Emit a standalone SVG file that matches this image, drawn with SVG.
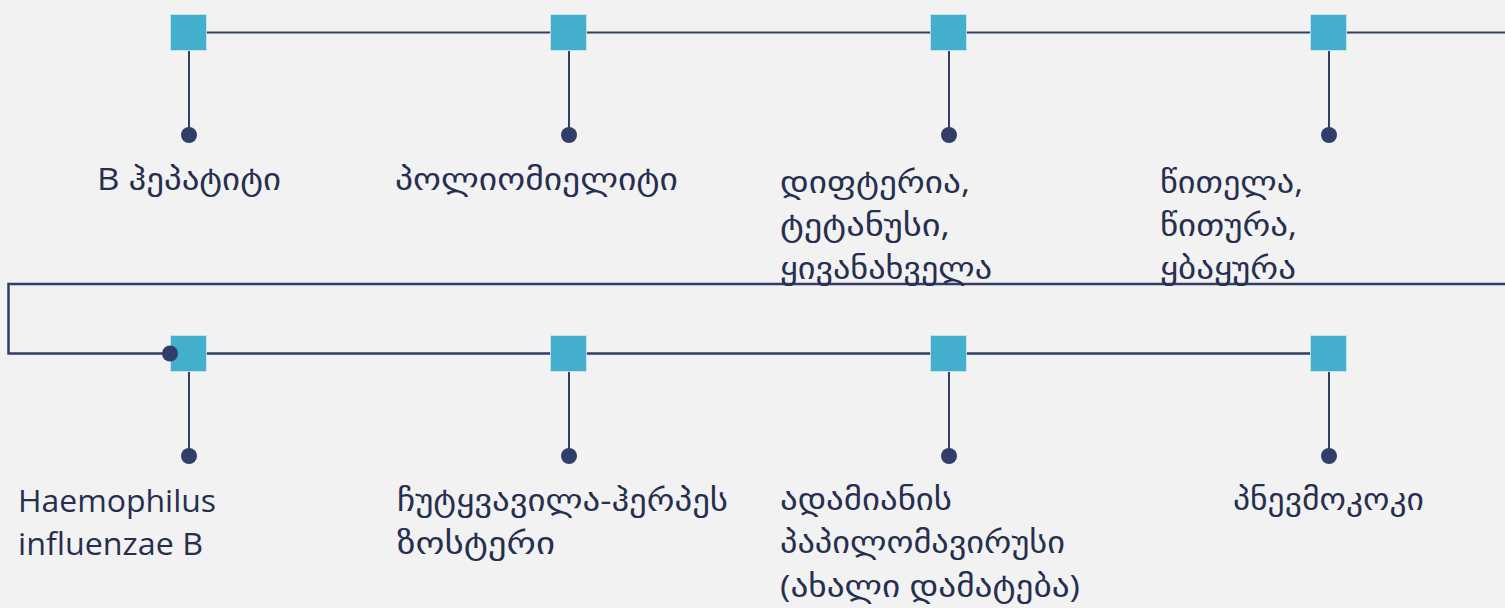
<svg xmlns="http://www.w3.org/2000/svg" width="1505" height="608" viewBox="0 0 1505 608">
<style>
.bg{fill:#f2f2f2}
.ln{fill:none;stroke:#323e6a;stroke-width:2}
.main{fill:none;stroke:#323e6a;stroke-width:2.5}
.sq{fill:#44afcd;stroke:#cfe6ee;stroke-width:0.8}
.dot{fill:#323e6a}
.t{font-family:"Open Sans","DejaVu Sans",sans-serif;font-size:31px;fill:#262f4f}
</style>
<rect class="bg" x="0" y="0" width="1505" height="608"/>
<g id="connectors">
<line class="ln" x1="189" y1="32.5" x2="1505" y2="32.5"/>
<polyline class="main" points="1505,284 8.5,284 8.5,353.5 170,353.5"/>
<line class="main" x1="189" y1="353.5" x2="1329" y2="353.5"/>
</g>
<g id="n1">
<line class="ln" x1="189" y1="51" x2="189" y2="135"/>
<rect class="sq" x="170.5" y="14.5" width="36" height="36"/>
<circle class="dot" cx="189" cy="135" r="8"/>
<text class="t" x="97" y="190" textLength="184" lengthAdjust="spacingAndGlyphs">B ჰეპატიტი</text>
</g>
<g id="n2">
<line class="ln" x1="569" y1="51" x2="569" y2="135"/>
<rect class="sq" x="550.5" y="14.5" width="36" height="36"/>
<circle class="dot" cx="569" cy="135" r="8"/>
<text class="t" x="395" y="190" textLength="283" lengthAdjust="spacingAndGlyphs">პოლიომიელიტი</text>
</g>
<g id="n3">
<line class="ln" x1="949" y1="51" x2="949" y2="135"/>
<rect class="sq" x="930.5" y="14.5" width="36" height="36"/>
<circle class="dot" cx="949" cy="135" r="8"/>
<text class="t" x="780" y="193" textLength="190" lengthAdjust="spacingAndGlyphs">დიფტერია,</text>
<text class="t" x="780" y="236" textLength="170" lengthAdjust="spacingAndGlyphs">ტეტანუსი,</text>
<text class="t" x="780" y="279" textLength="212" lengthAdjust="spacingAndGlyphs">ყივანახველა</text>
</g>
<g id="n4">
<line class="ln" x1="1329" y1="51" x2="1329" y2="135"/>
<rect class="sq" x="1310.5" y="14.5" width="36" height="36"/>
<circle class="dot" cx="1329" cy="135" r="8"/>
<text class="t" x="1160" y="193" textLength="143" lengthAdjust="spacingAndGlyphs">წითელა,</text>
<text class="t" x="1160" y="236" textLength="137" lengthAdjust="spacingAndGlyphs">წითურა,</text>
<text class="t" x="1160" y="279" textLength="136" lengthAdjust="spacingAndGlyphs">ყბაყურა</text>
</g>
<g id="n5">
<line class="ln" x1="189" y1="372" x2="189" y2="456"/>
<rect class="sq" x="170.5" y="335.5" width="36" height="36"/>
<circle class="dot" cx="170" cy="353.5" r="8"/>
<circle class="dot" cx="189" cy="456" r="8"/>
<text class="t" x="18" y="512" textLength="198" lengthAdjust="spacingAndGlyphs">Haemophilus</text>
<text class="t" x="18" y="555" textLength="185" lengthAdjust="spacingAndGlyphs">influenzae B</text>
</g>
<g id="n6">
<line class="ln" x1="569" y1="372" x2="569" y2="456"/>
<rect class="sq" x="550.5" y="335.5" width="36" height="36"/>
<circle class="dot" cx="569" cy="456" r="8"/>
<text class="t" x="397" y="511" textLength="331" lengthAdjust="spacingAndGlyphs">ჩუტყვავილა-ჰერპეს</text>
<text class="t" x="397" y="554" textLength="158" lengthAdjust="spacingAndGlyphs">ზოსტერი</text>
</g>
<g id="n7">
<line class="ln" x1="949" y1="372" x2="949" y2="456"/>
<rect class="sq" x="930.5" y="335.5" width="36" height="36"/>
<circle class="dot" cx="949" cy="456" r="8"/>
<text class="t" x="780" y="510" textLength="172" lengthAdjust="spacingAndGlyphs">ადამიანის</text>
<text class="t" x="780" y="553" textLength="285" lengthAdjust="spacingAndGlyphs">პაპილომავირუსი</text>
<text class="t" x="780" y="597" textLength="300" lengthAdjust="spacingAndGlyphs">(ახალი დამატება)</text>
</g>
<g id="n8">
<line class="ln" x1="1329" y1="372" x2="1329" y2="456"/>
<rect class="sq" x="1310.5" y="335.5" width="36" height="36"/>
<circle class="dot" cx="1329" cy="456" r="8"/>
<text class="t" x="1233" y="510" textLength="191" lengthAdjust="spacingAndGlyphs">პნევმოკოკი</text>
</g>
</svg>
